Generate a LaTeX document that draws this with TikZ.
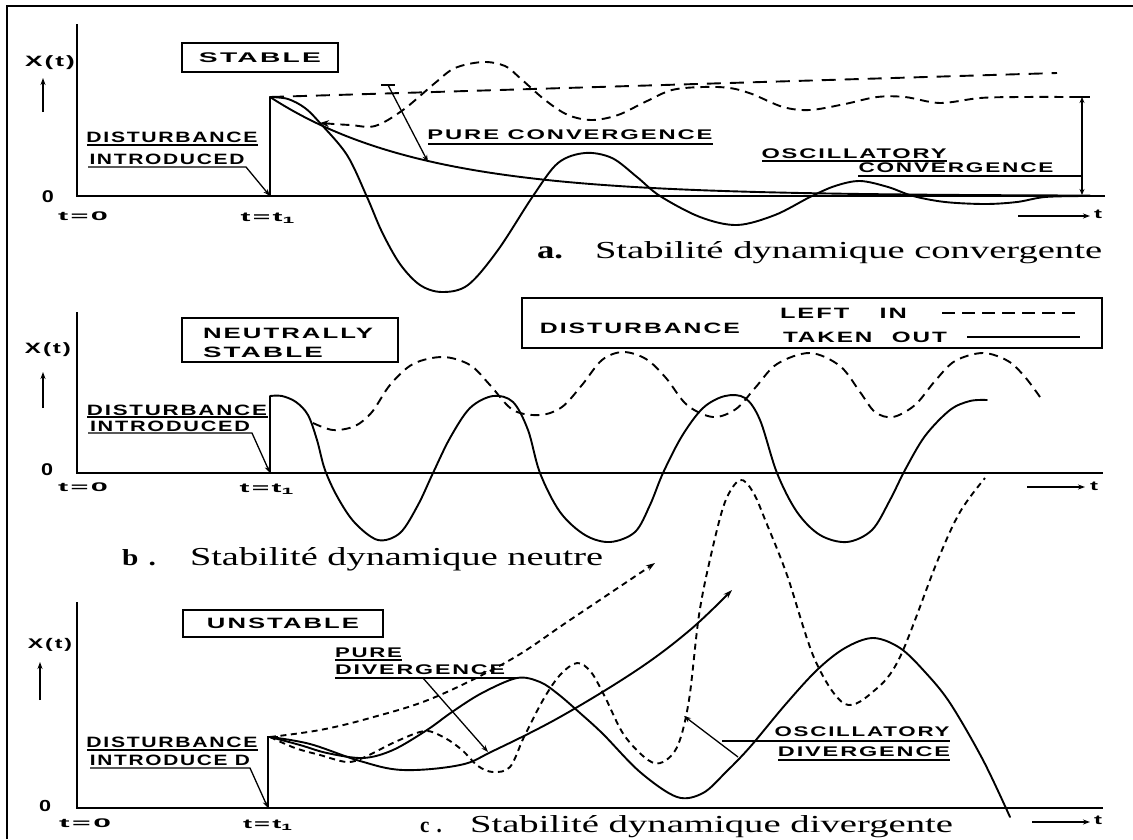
\documentclass[tikz,border=0pt]{standalone}
\usepackage{fontspec}
\usepackage{graphicx}
\usetikzlibrary{arrows.meta}
\newfontfamily\handfont[LetterSpace=8]{Liberation Sans}
\newfontfamily\capfont{Liberation Serif}
% width, font size, text
\newcommand\hl[3]{\resizebox{#1pt}{\height}{\handfont\bfseries\fontsize{#2}{#2}\selectfont #3}}
\newcommand\capt[3]{\resizebox{#1pt}{#2pt}{\capfont #3}}
\newcommand\capl[3]{\resizebox{#1pt}{\height}{\capfont\bfseries\fontsize{#2}{#2}\selectfont #3}}
\begin{document}
\begin{tikzpicture}[x=1pt,y=-1pt,
  axis/.style={line width=2.2pt},
  curve/.style={line width=1.9pt, line join=round, line cap=round},
  dcurve/.style={line width=1.9pt, line join=round, dash pattern=on 9pt off 6pt},
  ddcurve/.style={line width=1.9pt, line join=round, dash pattern=on 6pt off 4.5pt},
  uline/.style={line width=1.3pt},
  lbl/.style={inner sep=0pt, outer sep=0pt},
  tip/.style={-{Stealth[length=7pt,width=5pt]}},
  boxed/.style={draw, line width=2pt, inner sep=0pt},
]
\useasboundingbox (0,0) rectangle (1133,839);
\fill[white] (0,0) rectangle (1133,839);
% frame
\draw[line width=2.5pt] (7,839) -- (7,6) -- (1133,6);

%%%%%%%%%%%%%%%% PANEL A %%%%%%%%%%%%%%%%
\draw[axis] (77,24) -- (77,196) -- (1105,196);
\node[lbl] (xa) at (50,63) {\hl{50}{15}{X(t)}};
\coordinate (xa1) at (43,112); \coordinate (xa2) at (43,78);
\draw[line width=1.6pt, tip] (xa1) -- (xa2);
\node[lbl] (za) at (48,197) {\hl{12}{17}{0}};
\node[lbl] (t0a) at (83,216) {\hl{50}{12.5}{t=0}};
\node[lbl] (t1a) at (268,218) {\hl{55}{13}{t=t\textsubscript{1}}};
\node[boxed, minimum width=156pt, minimum height=29pt] (sta) at (260,57.5) {\hl{122}{14}{STABLE}};
\coordinate (stepa0) at (270,196); \coordinate (stepa) at (270,97);
\draw[axis] (stepa0) -- (stepa);
\node[lbl] (dia) at (172,137) {\hl{171}{15}{DISTURBANCE}};
\draw[uline] (87,145) -- (258,145);
\node[lbl] (ina) at (167,159) {\hl{155}{15}{INTRODUCED}};
\draw[uline, tip] (88,167) -- (246,167) -- (stepa0);
% exponential (pure convergence)
\draw[curve] plot[domain=270:1090, samples=120] (\x,{196-99*exp(-(\x-270)/152)});
% oscillatory convergence (solid)
\draw[curve] plot[smooth, tension=0.55] coordinates {(270,97) (288,99) (305,108) (320,123) (347,155) (367,197) (382,232) (400,264) (420,285) (442,292) (468,285) (498,250) (533,196) (558,163) (585,153) (612,158) (637,177) (660,196) (700,217) (737,225) (775,215) (810,197) (835,186) (860,181) (888,187) (913,196) (945,202) (985,204) (1017,202) (1045,197) (1085,196)};
% dashed wave
\draw[dcurve, {Stealth[length=9pt,width=7pt]}-] plot[smooth, tension=0.55] coordinates {(320,123) (350,125) (375,126) (403,110) (435,83) (455,68) (483,62) (505,66) (520,78) (545,100) (568,115) (592,120) (618,115) (645,102) (672,90) (703,87) (730,88) (752,94) (783,107) (810,110) (845,104) (877,97) (905,97) (940,103) (980,98) (1020,97) (1080,97)};
% straight dashed (left in)
\draw[curve, line cap=butt, dash pattern=on 14pt off 9pt] (stepa) -- (1057,73);
% pure convergence
\coordinate (pca) at (388,85); \coordinate (pcb) at (428,162);
\draw[uline] (381,85) -- (395,85);
\draw[uline, tip] (pca) -- (pcb);
\node[lbl] (pcl) at (570,135) {\hl{285}{14}{PURE CONVERGENCE}};
\draw[uline] (428,144) -- (713,144);
% oscillatory convergence label
\node[lbl] (oca) at (854,154) {\hl{185}{14}{OSCILLATORY}};
\draw[uline] (762,161) -- (947,161);
\node[lbl] (ocb) at (956,168) {\hl{195}{14}{CONVERGENCE}};
\draw[uline] (858,176) -- (1082,176);
\coordinate (va) at (1082,97); \coordinate (vb) at (1082,195);
\draw[uline] (1074,97) -- (1090,97);
\draw[line width=1.5pt, {Stealth[length=6pt,width=5pt]}-{Stealth[length=6pt,width=5pt]}] (va) -- (vb);
\coordinate (ta1) at (1018,216); \coordinate (ta2) at (1090,216);
\draw[line width=1.5pt, tip] (ta1) -- (ta2);
\node[lbl] (ta) at (1098,214) {\hl{8}{13}{t}};
\node[lbl, anchor=base west] (capa1) at (537,258) {\capl{26}{25}{a.}};
\node[lbl, anchor=base west] (capa) at (595,258) {\capt{507}{17}{Stabilité dynamique convergente}};

%%%%%%%%%%%%%%%% PANEL B %%%%%%%%%%%%%%%%
\draw[axis] (77,312) -- (77,473) -- (1103,473);
\node[lbl] (xb) at (48,350) {\hl{46}{15}{X(t)}};
\coordinate (xb1) at (43,408); \coordinate (xb2) at (43,372);
\draw[line width=1.6pt, tip] (xb1) -- (xb2);
\node[lbl] (zb) at (47,470) {\hl{12}{17}{0}};
\node[lbl] (t0b) at (83,487) {\hl{50}{12.5}{t=0}};
\node[lbl] (t1b) at (267,489) {\hl{55}{13}{t=t\textsubscript{1}}};
\node[boxed, minimum width=216pt, minimum height=44pt] (nsb) at (290,340) {};
\node[lbl, anchor=west] (nsb1) at (203,333) {\hl{170}{15}{NEUTRALLY}};
\node[lbl, anchor=west] (nsb2) at (203,352) {\hl{120}{15}{STABLE}};
\coordinate (stepb0) at (270,473); \coordinate (stepb) at (270,396);
\draw[axis] (stepb0) -- (stepb);
\node[lbl] (dib) at (177,410) {\hl{180}{15}{DISTURBANCE}};
\draw[uline] (87,417) -- (268,417);
\node[lbl] (inb) at (170,426) {\hl{160}{15}{INTRODUCED}};
\draw[uline, tip] (88,433) -- (252,433) -- (stepb0);
% solid (taken out)
\draw[curve] plot[smooth, tension=0.55] coordinates {(270,396) (282,396) (296,402) (308,415) (317,440) (325,470) (338,498) (355,523) (378,540) (400,533) (418,505) (433,473) (450,438) (470,408) (493,396) (513,402) (528,430) (540,473) (560,512) (585,535) (610,542) (635,532) (650,505) (663,473) (682,436) (703,408) (725,396) (745,398) (760,420) (777,473) (797,512) (820,535) (847,542) (872,530) (890,500) (905,470) (925,436) (950,410) (970,401) (987,400)};
% dashed (left in)
\draw[dcurve] plot[smooth, tension=0.55] coordinates {(313,423) (333,430) (355,426) (372,412) (390,385) (413,364) (443,357) (470,365) (490,385) (513,410) (540,415) (562,407) (582,385) (602,360) (623,352) (646,359) (666,378) (687,405) (713,417) (736,409) (755,388) (777,364) (810,353) (840,366) (860,392) (875,412) (893,417) (915,405) (935,381) (955,361) (983,353) (1008,361) (1025,377) (1040,397)};
% legend
\node[boxed, minimum width=580pt, minimum height=50pt] (leg) at (812,323) {};
\node[lbl] (lgd) at (640,328) {\hl{200}{15}{DISTURBANCE}};
\node[lbl, anchor=west] (lgl) at (780,313) {\hl{127}{15}{LEFT\hspace{1.2em}IN}};
\node[lbl, anchor=west] (lgt) at (783,337) {\hl{164}{15}{TAKEN\hspace{0.8em}OUT}};
\coordinate (lg1) at (942,313); \coordinate (lg2) at (1075,313);
\draw[line width=1.5pt, dash pattern=on 13pt off 7pt] (lg1) -- (lg2);
\coordinate (lg3) at (967,337); \coordinate (lg4) at (1080,337);
\draw[line width=1.5pt] (lg3) -- (lg4);
\coordinate (tb1) at (1027,487); \coordinate (tb2) at (1085,487);
\draw[line width=1.5pt, tip] (tb1) -- (tb2);
\node[lbl] (tb) at (1094,486) {\hl{8}{13}{t}};
\node[lbl, anchor=base west] (capb1) at (122,565) {\capl{34}{23}{b\hspace{0.35em}.}};
\node[lbl, anchor=base west] (capb) at (190,565) {\capt{413}{18}{Stabilité dynamique neutre}};

%%%%%%%%%%%%%%%% PANEL C %%%%%%%%%%%%%%%%
\draw[axis] (77,602) -- (77,808) -- (1103,808);
\node[boxed, minimum width=200pt, minimum height=27pt] (unc) at (283,623.5) {\hl{152}{15}{UNSTABLE}};
\node[lbl] (xc) at (50,645) {\hl{44}{14}{X(t)}};
\coordinate (xc1) at (40,700); \coordinate (xc2) at (40,662);
\draw[line width=1.6pt, tip] (xc1) -- (xc2);
\node[lbl] (zc) at (45,806) {\hl{12}{16}{0}};
\node[lbl] (t0c) at (85,823) {\hl{52}{12.5}{t=0}};
\node[lbl] (t1c) at (268,825) {\hl{50}{13}{t=t\textsubscript{1}}};
\coordinate (stepc0) at (268,808); \coordinate (stepc) at (268,737);
\draw[axis] (stepc0) -- (stepc) -- (278,737);
\node[lbl] (dic) at (172,742) {\hl{171}{15}{DISTURBANCE}};
\draw[uline] (87,750) -- (258,750);
\node[lbl] (inc) at (170,760) {\hl{160}{15}{INTRODUCE D}};
\draw[uline, tip] (90,768) -- (250,768) -- (stepc0);
% dashed pure divergence
\draw[ddcurve, -{Stealth[length=9pt,width=6pt]}] plot[smooth, tension=0.6] coordinates {(270,737) (320,730) (370,718) (433,698) (510,660) (570,620) (655,563)};
% solid pure divergence
\draw[curve, -{Stealth[length=9pt,width=6pt]}] plot[smooth, tension=0.6] coordinates {(270,737) (310,744) (360,761) (403,770) (460,765) (493,751) (560,717) (637,670) (690,630) (732,590)};
% solid oscillatory divergence
\draw[curve] plot[smooth, tension=0.55] coordinates {(270,737) (300,745) (327,753) (363,758) (393,750) (427,730) (452,712) (482,693) (517,678) (540,682) (558,694) (580,713) (603,734) (640,772) (677,797) (703,793) (726,772) (750,747) (785,705) (817,670) (845,648) (873,638) (900,648) (925,672) (950,703) (983,760) (1010,817)};
% dashed oscillatory divergence
\draw[ddcurve] plot[smooth, tension=0.55] coordinates {(270,737) (295,748) (320,755) (347,762) (365,757) (395,742) (425,731) (445,738) (462,750) (478,766) (493,772) (510,767) (524,737) (543,700) (560,675) (577,663) (591,672) (605,697) (624,735) (648,760) (663,762) (678,745) (689,700) (699,615) (711,555) (725,502) (740,480) (753,492) (766,522) (787,575) (815,660) (845,704) (875,690) (900,657) (937,562) (960,512) (985,478)};
% pure divergence label
\node[lbl, anchor=west] (pdc1) at (335,653) {\hl{67}{14}{PURE}};
\draw[uline] (335,660) -- (402,660);
\node[lbl, anchor=west] (pdc2) at (335,670) {\hl{170}{14}{DIVERGENCE}};
\draw[uline] (335,678) -- (517,678);
\coordinate (pd1) at (423,678); \coordinate (pd2) at (488,752);
\draw[uline, tip] (pd1) -- (pd2);
% oscillatory divergence label
\node[lbl] (odc1) at (862,732) {\hl{175}{14}{OSCILLATORY}};
\draw[uline] (722,741) -- (950,741);
\node[lbl] (odc2) at (864,752) {\hl{172}{14}{DIVERGENCE}};
\draw[uline] (778,760) -- (950,760);
\coordinate (od1) at (738,757); \coordinate (od2) at (684,716);
\draw[uline, tip] (od1) -- (od2);
\coordinate (tc1) at (1032,822); \coordinate (tc2) at (1090,822);
\draw[line width=1.5pt, tip] (tc1) -- (tc2);
\node[lbl] (tc) at (1098,820) {\hl{8}{13}{t}};
\node[lbl, anchor=base west] (capc1) at (420,832) {\capl{22}{22}{c\hspace{0.35em}.}};
\node[lbl, anchor=base west] (capc) at (470,832) {\capt{483}{17}{Stabilité dynamique divergente}};
\end{tikzpicture}
\end{document}
